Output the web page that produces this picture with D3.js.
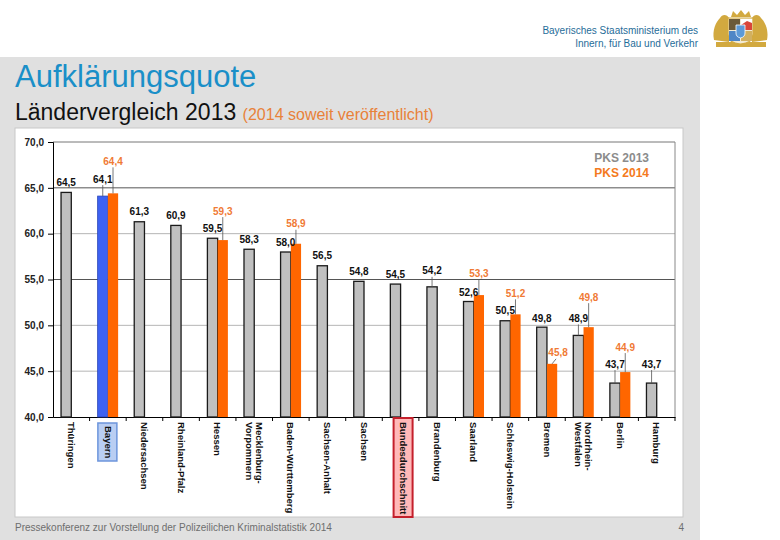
<!DOCTYPE html>
<html><head><meta charset="utf-8">
<script src="https://cdn.jsdelivr.net/npm/d3@7"></script>
<style>
html,body{margin:0;padding:0;background:#fff;}
svg{display:block;font-family:"Liberation Sans",Arial,sans-serif;}
</style></head>
<body>
<svg id="c" width="780" height="540"></svg>
<script>
// ---- data ----
const categories = ["Thüringen","Bayern","Niedersachsen","Rheinland-Pfalz","Hessen","Mecklenburg-\nVorpommern","Baden-Württemberg","Sachsen-Anhalt","Sachsen","Bundesdurchschnitt","Brandenburg","Saarland","Schleswig-Holstein","Bremen","Nordrhein-\nWestfalen","Berlin","Hamburg"];
const values2013 = [64.5,64.1,61.3,60.9,59.5,58.3,58.0,56.5,54.8,54.5,54.2,52.6,50.5,49.8,48.9,43.7,43.7];
const values2014 = [null,64.4,null,null,59.3,null,58.9,null,null,null,null,53.3,51.2,45.8,49.8,44.9,null];
const yTicks = [40,45,50,55,60,65,70];
const seriesNames = ["PKS 2013","PKS 2014"];
const highlight = {"Bayern":"bayern","Bundesdurchschnitt":"bund"};

// ---- layout (label placement, px above bar top) ----
const lift2013 = [10,17,10,9.5,9.5,9.5,10,10,9.5,10,16,9.5,10,9,17,19,19];
const lift2014 = [0,32,0,0,29,0,20,0,0,0,0,22,21,11,30,25,0];
const shift2014 = [0,0,0,0,0,0,0,0,0,0,0,0,0,6,0,0,0];

const svg = d3.select("#c");
const fmt = v => d3.format(".1f")(v).replace(".", ",");

// header
svg.append("text").attr("x",698).attr("y",34).attr("text-anchor","end")
  .attr("font-size",10).attr("fill","#1f6d99").text("Bayerisches Staatsministerium des");
svg.append("text").attr("x",698).attr("y",47).attr("text-anchor","end")
  .attr("font-size",10).attr("fill","#1f6d99").text("Innern, für Bau und Verkehr");

// coat of arms (stylised)
const ca = svg.append("g");
const gold = "#d2a93f";
ca.append("rect").attr("x",716).attr("y",42).attr("width",50).attr("height",5).attr("fill",gold);
ca.append("path").attr("d","M714,40 C712,30 716,22 720,18 C722,14 727,14 729,18 L729,42 Z").attr("fill",gold);
ca.append("path").attr("d","M767,40 C769,30 765,22 761,18 C759,14 754,14 752,18 L752,42 Z").attr("fill",gold);
ca.append("path").attr("d","M731,17 L733,11 L737,15 L741,10 L745,15 L749,11 L751,17 Z").attr("fill",gold);
ca.append("path").attr("d","M728,18 L753,18 L753,34 Q753,43 740.5,44 Q728,43 728,34 Z").attr("fill","#f2ead2").attr("stroke",gold).attr("stroke-width",1.2);
ca.append("rect").attr("x",729).attr("y",19).attr("width",11).attr("height",11).attr("fill","#6b5a3a");
ca.append("rect").attr("x",741).attr("y",19).attr("width",11).attr("height",11).attr("fill","#d9463a");
ca.append("path").attr("d","M741,19 L752,19 L752,23 L747,21 L741,25 Z").attr("fill","#fff");
ca.append("rect").attr("x",729).attr("y",31).attr("width",11).attr("height",10).attr("fill","#4f86c6");
ca.append("rect").attr("x",741).attr("y",31).attr("width",11).attr("height",10).attr("fill","#d2b060");
ca.append("path").attr("d","M736,25 L745,25 L745,33 Q745,37 740.5,38 Q736,37 736,33 Z").attr("fill","#5d9ad8").attr("stroke","#fff").attr("stroke-width",0.8);

// gray panel
svg.append("rect").attr("x",0).attr("y",57).attr("width",700).attr("height",483).attr("fill","#e0e0e0");

// titles
svg.append("text").attr("x",15).attr("y",87).attr("font-size",31).attr("fill","#1a8fc8").text("Aufklärungsquote");
const sub = svg.append("text").attr("x",15).attr("y",120).attr("font-size",23).attr("fill","#111");
sub.append("tspan").text("Ländervergleich 2013 ");
sub.append("tspan").attr("font-size",16).attr("fill","#e8823a").text("(2014 soweit veröffentlicht)");

// white chart area
svg.append("rect").attr("x",15).attr("y",128).attr("width",668).attr("height",389)
  .attr("fill","#fff").attr("stroke","#c8c8c8").attr("stroke-width",1);

// footer
svg.append("text").attr("x",15).attr("y",531).attr("font-size",10).attr("fill","#6e6e6e")
  .text("Pressekonferenz zur Vorstellung der Polizeilichen Kriminalstatistik 2014");
svg.append("text").attr("x",684).attr("y",531).attr("text-anchor","end").attr("font-size",10).attr("fill","#6e6e6e").text("4");

// scales
const pLeft = 53, pRight = 675, pTop = 142, pBottom = 417;
const x = d3.scaleBand().domain(categories).range([pLeft,pRight]).padding(0);
const y = d3.scaleLinear().domain([40,70]).range([pBottom,pTop]);
const bw = x.bandwidth()*0.28;

// gridlines
const g = svg.append("g");
g.selectAll("line.grid").data(yTicks.filter(t=>t>40)).join("line")
  .attr("x1",pLeft).attr("x2",pRight).attr("y1",d=>y(d)).attr("y2",d=>y(d))
  .attr("stroke",d=> (d===65||d===55) ? "#555" : (d===70 ? "#777" : "#b5b5b5"))
  .attr("stroke-width",1);
g.append("line").attr("x1",pRight).attr("x2",pRight).attr("y1",pTop).attr("y2",pBottom).attr("stroke","#888");

// y axis
const yAxis = d3.axisLeft(y).tickValues(yTicks).tickSize(5).tickFormat(fmt);
const ya = svg.append("g").attr("transform",`translate(${pLeft},0)`).call(yAxis);
ya.select(".domain").attr("stroke","#000");
ya.selectAll(".tick line").attr("stroke","#000");
ya.selectAll(".tick text").attr("font-size",10).attr("font-weight","bold").attr("fill","#222")
  .attr("font-family","Liberation Sans, Arial, sans-serif").attr("x",-9);

// x axis
const xAxis = d3.axisBottom(x).tickSize(0).tickFormat("");
const xa = svg.append("g").attr("transform",`translate(0,${pBottom})`).call(xAxis);
xa.select(".domain").attr("stroke","#000");
xa.selectAll("line.bnd").data(categories).join("line").attr("class","bnd")
  .attr("x1",d=>x(d)+x.step()).attr("x2",d=>x(d)+x.step())
  .attr("y1",0).attr("y2",4).attr("stroke","#000");

// bars 2013
const data = categories.map((c,i)=>({c,i,v13:values2013[i],v14:values2014[i]}));
svg.append("g").selectAll("rect").data(data).join("rect")
  .attr("x",d=>x(d.c)+x.bandwidth()/2-bw)
  .attr("y",d=>y(d.v13)).attr("width",bw).attr("height",d=>pBottom-y(d.v13))
  .attr("fill",d=>highlight[d.c]==="bayern" ? "#3d62f2" : "#c0c0c0")
  .attr("stroke",d=>highlight[d.c]==="bayern" ? "#2a45b8" : "#1a1a1a")
  .attr("stroke-width",d=>highlight[d.c]==="bayern" ? 0.8 : 1.3);

// bars 2014
const d14 = data.filter(d=>d.v14!=null);
svg.append("g").selectAll("rect").data(d14).join("rect")
  .attr("x",d=>x(d.c)+x.bandwidth()/2)
  .attr("y",d=>y(d.v14)).attr("width",bw).attr("height",d=>pBottom-y(d.v14))
  .attr("fill","#ff6600");

// leaders + labels
const lab = svg.append("g");
data.forEach(d=>{
  const cx = x(d.c)+x.bandwidth()/2-bw/2;
  const ty = y(d.v13), ly = ty - lift2013[d.i];
  if (lift2013[d.i] > 12) {
    lab.append("line").attr("x1",cx).attr("x2",cx).attr("y1",ty).attr("y2",ly+6)
      .attr("stroke","#555").attr("stroke-width",0.8);
  }
  lab.append("text").attr("x",cx).attr("y",ly).attr("dy","0.35em").attr("text-anchor","middle")
    .attr("font-size",10).attr("font-weight","bold").attr("fill","#111").text(fmt(d.v13));
});
d14.forEach(d=>{
  const cx = x(d.c)+x.bandwidth()/2+bw/2;
  const ty = y(d.v14), ly = ty - lift2014[d.i], lx = cx + shift2014[d.i];
  if (lift2014[d.i] > 12 || shift2014[d.i] !== 0) {
    lab.append("line").attr("x1",cx).attr("x2",lx-2*Math.sign(shift2014[d.i])).attr("y1",ty).attr("y2",ly+6)
      .attr("stroke","#555").attr("stroke-width",0.8);
  }
  lab.append("text").attr("x",lx).attr("y",ly).attr("dy","0.35em").attr("text-anchor","middle")
    .attr("font-size",10).attr("font-weight","bold").attr("fill","#f07a35").text(fmt(d.v14));
});

// category labels (rotated)
const cl = svg.append("g");
data.forEach(d=>{
  const cx = x(d.c)+x.bandwidth()/2;
  const lines = d.c.split("\n");
  const lh = 10.5;
  const kind = highlight[d.c];
  if (kind==="bayern") {
    cl.append("rect").attr("x",cx-10).attr("y",423).attr("width",19).attr("height",38)
      .attr("fill","#b9cef3").attr("stroke","#6d95dc").attr("stroke-width",1.5);
  } else if (kind==="bund") {
    cl.append("rect").attr("x",cx-7).attr("y",418).attr("width",19).attr("height",99)
      .attr("fill","#ffb9b9").attr("stroke","#c4202c").attr("stroke-width",2);
  }
  const t = cl.append("text").attr("transform",`translate(${cx + (kind==="bund"?3:0)},${kind==="bayern"?426:422}) rotate(90)`)
    .attr("font-size",9.5).attr("font-weight","bold").attr("fill","#111");
  lines.forEach((s,k)=>{
    t.append("tspan").attr("x",0).attr("y",0)
      .attr("dy", (0.35*9.5 - (lines.length-1)*lh/2 + k*lh) + "px").text(s);
  });
});

// legend
svg.append("text").attr("x",649).attr("y",162).attr("text-anchor","end").attr("font-size",12)
  .attr("font-weight","bold").attr("fill","#8c8c8c").text(seriesNames[0]);
svg.append("text").attr("x",649).attr("y",177).attr("text-anchor","end").attr("font-size",12)
  .attr("font-weight","bold").attr("fill","#f47a20").text(seriesNames[1]);
</script>
</body></html>
